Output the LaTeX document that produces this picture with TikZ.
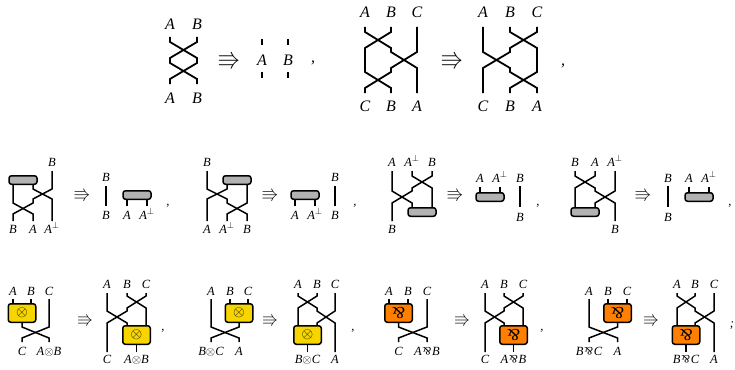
\documentclass[tikz,border=0pt]{standalone}
\usepackage{amsmath,amssymb}
\usepackage{graphicx}
\usepackage{fontspec}
\setmainfont{Liberation Serif}

\definecolor{capgrey}{RGB}{178,178,178}
\definecolor{tensoryellow}{RGB}{247,214,0}
\definecolor{parorange}{RGB}{255,128,0}

\newcommand{\parrsym}{\rotatebox[origin=c]{180}{\upshape\&}}
\newcommand{\parrlab}{\kern0.8pt\scalebox{0.9}{\parrsym}\kern0.8pt}
\newcommand{\imply}[1]{\scalebox{#1}{$\Rrightarrow$}}
\newcommand{\tensorin}{\scalebox{1.25}{$\otimes$}}
\newcommand{\parrin}{\scalebox{1.4}{\parrsym}}

\begin{document}
\begin{tikzpicture}[x=1pt, y=-1pt,
  wire/.style={line width=1.8pt},
  thinwire/.style={line width=1.5pt},
  biglab/.style={font=\fontsize{16}{19}\selectfont\itshape, anchor=base, inner sep=0pt},
  lab/.style={font=\fontsize{12.5}{15}\selectfont\itshape, anchor=base, inner sep=0pt},
  imp/.style={inner sep=0pt},
  capbox/.style={draw, line width=1.5pt, rounded corners=2.5pt, fill=capgrey, minimum width=28pt, minimum height=8.5pt, inner sep=0pt},
  tensorbox/.style={draw, line width=1.5pt, rounded corners=2.5pt, fill=tensoryellow, minimum width=27.5pt, minimum height=18.5pt, inner sep=0pt, font=\fontsize{12}{14}\selectfont},
  parbox/.style={tensorbox, fill=parorange}]

  \useasboundingbox (0,0) rectangle (735,369);

  % Row 1: double swap
  \node (d1a) [biglab] at (170,30) {A};
  \node (d1b) [biglab] at (197,30) {B};
  \draw[wire] (170,37) -- (170,42) -- (197,58) -- (197,63) -- (170,79) -- (170,84);
  \draw[wire] (197,37) -- (197,42) -- (170,58) -- (170,63) -- (197,79) -- (197,84);
  \node (d1A) [biglab] at (170,103) {A};
  \node (d1B) [biglab] at (197,103) {B};
  \node (imp1) [imp] at (229,61) {\imply{2.3}};
  \node (m1a) [biglab] at (262,66) {A};
  \node (m1b) [biglab] at (288,66) {B};
  \draw[wire] (262,39) -- (262,45);
  \draw[wire] (262,72) -- (262,78);
  \draw[wire] (288,39) -- (288,45);
  \draw[wire] (288,72) -- (288,78);
  \node (com1) [biglab] at (313,63) {,};

  % Row 1: braid relation
  \node (d2a) [biglab] at (365,18) {A};
  \node (d2b) [biglab] at (391,18) {B};
  \node (d2c) [biglab] at (417,18) {C};
  \draw[wire] (365,27) -- (365,32) -- (391,48) -- (391,52) -- (417,68) -- (417,93);
  \draw[wire] (391,27) -- (391,32) -- (365,48) -- (365,72) -- (391,88) -- (391,93);
  \draw[wire] (417,27) -- (417,52) -- (391,68) -- (391,72) -- (365,88) -- (365,93);
  \node (d2C) [biglab] at (365,111) {C};
  \node (d2B) [biglab] at (391,111) {B};
  \node (d2A) [biglab] at (417,111) {A};
  \node (imp2) [imp] at (452,61) {\imply{2.3}};
  \node (d3a) [biglab] at (483,18) {A};
  \node (d3b) [biglab] at (510,18) {B};
  \node (d3c) [biglab] at (537,18) {C};
  \draw[wire] (483,27) -- (483,52) -- (510,68) -- (510,72) -- (537,88) -- (537,93);
  \draw[wire] (510,27) -- (510,32) -- (537,48) -- (537,72) -- (510,88) -- (510,93);
  \draw[wire] (537,27) -- (537,32) -- (510,48) -- (510,52) -- (483,68) -- (483,93);
  \node (d3C) [biglab] at (483,111) {C};
  \node (d3B) [biglab] at (510,111) {B};
  \node (d3A) [biglab] at (537,111) {A};
  \node (com2) [biglab] at (563,65) {,};

  % Row 2: cap on the left
  \node (e1b) [lab] at (52,166) {B};
  \draw[thinwire] (52,171) -- (52,189) -- (33,199) -- (33,203) -- (13,214) -- (13,221);
  \draw[thinwire] (13,180) -- (13,203) -- (33,214) -- (33,221);
  \draw[thinwire] (33,180) -- (33,189) -- (52,199) -- (52,221);
  \node (g1) [capbox] at (23,180) {};
  \node (e1B) [lab] at (13,233) {B};
  \node (e1A) [lab] at (33,233) {A};
  \node (e1P) [lab] at (52,233) {A$^{\perp}$};
  \node (imp3) [imp] at (82,195) {\imply{1.7}};
  \node (f1b) [lab] at (106,181) {B};
  \draw[thinwire] (106,186) -- (106,206);
  \node (f1B) [lab] at (106,219) {B};
  \draw[thinwire] (127,195) -- (127,206);
  \draw[thinwire] (147,195) -- (147,206);
  \node (g2) [capbox] at (137,195) {};
  \node (f1A) [lab] at (127,219) {A};
  \node (f1P) [lab] at (147,219) {A$^{\perp}$};
  \node (com3) [lab] at (168,205) {,};

  % Row 2: cap on the right
  \node (e2b) [lab] at (207,166) {B};
  \draw[thinwire] (207,171) -- (207,189) -- (227,199) -- (227,203) -- (247,214) -- (247,221);
  \draw[thinwire] (227,180) -- (227,189) -- (207,199) -- (207,221);
  \draw[thinwire] (247,180) -- (247,203) -- (227,214) -- (227,221);
  \node (g3) [capbox] at (237,180) {};
  \node (e2A) [lab] at (207,233) {A};
  \node (e2P) [lab] at (227,233) {A$^{\perp}$};
  \node (e2B) [lab] at (247,233) {B};
  \node (imp4) [imp] at (270,195) {\imply{1.7}};
  \draw[thinwire] (295,195) -- (295,206);
  \draw[thinwire] (315,195) -- (315,206);
  \node (g4) [capbox] at (305,195) {};
  \node (f2A) [lab] at (295,219) {A};
  \node (f2P) [lab] at (315,219) {A$^{\perp}$};
  \node (f2b) [lab] at (335,181) {B};
  \draw[thinwire] (335,186) -- (335,206);
  \node (f2B) [lab] at (335,219) {B};
  \node (com4) [lab] at (355,205) {,};

  % Row 2: cup on the right
  \node (e3a) [lab] at (392,166) {A};
  \node (e3p) [lab] at (412,166) {A$^{\perp}$};
  \node (e3b) [lab] at (432,166) {B};
  \draw[thinwire] (412,171) -- (412,176) -- (432,188) -- (432,212);
  \draw[thinwire] (432,171) -- (432,176) -- (412,188) -- (412,191) -- (392,203) -- (392,221);
  \draw[thinwire] (392,171) -- (392,191) -- (412,203) -- (412,212);
  \node (g5) [capbox] at (422,212) {};
  \node (e3B) [lab] at (392,233) {B};
  \node (imp5) [imp] at (455,195) {\imply{1.7}};
  \node (f3a) [lab] at (480,182) {A};
  \node (f3p) [lab] at (500,182) {A$^{\perp}$};
  \draw[thinwire] (480,187) -- (480,197);
  \draw[thinwire] (500,187) -- (500,197);
  \node (g6) [capbox] at (490,197) {};
  \node (f3b) [lab] at (520,182) {B};
  \draw[thinwire] (520,186) -- (520,207);
  \node (f3B) [lab] at (520,221) {B};
  \node (com5) [lab] at (538,205) {,};

  % Row 2: cup on the left
  \node (e4b) [lab] at (575,166) {B};
  \node (e4a) [lab] at (595,166) {A};
  \node (e4p) [lab] at (615,166) {A$^{\perp}$};
  \draw[thinwire] (575,171) -- (575,176) -- (595,188) -- (595,191) -- (615,203) -- (615,221);
  \draw[thinwire] (595,171) -- (595,176) -- (575,188) -- (575,212);
  \draw[thinwire] (615,171) -- (615,191) -- (595,203) -- (595,212);
  \node (g7) [capbox] at (585,212) {};
  \node (e4B) [lab] at (615,233) {B};
  \node (imp6) [imp] at (643,195) {\imply{1.7}};
  \node (f4b) [lab] at (668,182) {B};
  \draw[thinwire] (668,186) -- (668,207);
  \node (f4B) [lab] at (668,221) {B};
  \node (f4a) [lab] at (689,182) {A};
  \node (f4p) [lab] at (709,182) {A$^{\perp}$};
  \draw[thinwire] (689,187) -- (689,197);
  \draw[thinwire] (709,187) -- (709,197);
  \node (g8) [capbox] at (699,197) {};
  \node (com6) [lab] at (730,205) {,};

  % Row 3: tensor, box on the left
  \node (h1a) [lab] at (13,295) {A};
  \node (h1b) [lab] at (31,295) {B};
  \node (h1c) [lab] at (49,295) {C};
  \draw[thinwire] (13,299) -- (13,313);
  \draw[thinwire] (31,299) -- (31,313);
  \draw[thinwire] (22,313) -- (22,327) -- (49,338) -- (49,342);
  \draw[thinwire] (49,299) -- (49,327) -- (22,338) -- (22,342);
  \node (t1) [tensorbox] at (22,313) {\tensorin};
  \node (h1C) [lab] at (22,355) {C};
  \node (h1T) [lab] at (49,355) {A$\otimes$B};
  \node (imp7) [imp] at (85,320) {\imply{1.6}};
  \node (k1a) [lab] at (107,288) {A};
  \node (k1b) [lab] at (127,288) {B};
  \node (k1c) [lab] at (146,288) {C};
  \draw[thinwire] (107,293) -- (107,311) -- (127,323) -- (127,335);
  \draw[thinwire] (127,293) -- (127,296) -- (146,308) -- (146,335);
  \draw[thinwire] (146,293) -- (146,296) -- (127,308) -- (127,311) -- (107,323) -- (107,352);
  \draw[thinwire] (136.5,335) -- (136.5,352);
  \node (t2) [tensorbox] at (136.5,335) {\tensorin};
  \node (k1C) [lab] at (107,363) {C};
  \node (k1T) [lab] at (136.5,363) {A$\otimes$B};
  \node (com7) [lab] at (163,330) {,};

  % Row 3: tensor, box on the right
  \node (h2a) [lab] at (211,295) {A};
  \node (h2b) [lab] at (230,295) {B};
  \node (h2c) [lab] at (248,295) {C};
  \draw[thinwire] (230,299) -- (230,313);
  \draw[thinwire] (248,299) -- (248,313);
  \draw[thinwire] (211,299) -- (211,327) -- (239,338) -- (239,342);
  \draw[thinwire] (239,313) -- (239,327) -- (211,338) -- (211,342);
  \node (t3) [tensorbox] at (239,313) {\tensorin};
  \node (h2T) [lab] at (211,355) {B$\otimes$C};
  \node (h2A) [lab] at (239,355) {A};
  \node (imp8) [imp] at (270,320) {\imply{1.6}};
  \node (k2a) [lab] at (298,288) {A};
  \node (k2b) [lab] at (317,288) {B};
  \node (k2c) [lab] at (335,288) {C};
  \draw[thinwire] (298,293) -- (298,296) -- (317,308) -- (317,311) -- (335,323) -- (335,352);
  \draw[thinwire] (317,293) -- (317,296) -- (298,308) -- (298,335);
  \draw[thinwire] (335,293) -- (335,311) -- (317,323) -- (317,335);
  \draw[thinwire] (307.5,335) -- (307.5,352);
  \node (t4) [tensorbox] at (307.5,335) {\tensorin};
  \node (k2T) [lab] at (307.5,363) {B$\otimes$C};
  \node (k2A) [lab] at (335,363) {A};
  \node (com8) [lab] at (353,330) {,};

  % Row 3: par, box on the left
  \node (h3a) [lab] at (389,295) {A};
  \node (h3b) [lab] at (408,295) {B};
  \node (h3c) [lab] at (427,295) {C};
  \draw[thinwire] (389,299) -- (389,313);
  \draw[thinwire] (408,299) -- (408,313);
  \draw[thinwire] (398.5,313) -- (398.5,327) -- (427,338) -- (427,342);
  \draw[thinwire] (427,299) -- (427,327) -- (398.5,338) -- (398.5,342);
  \node (p1) [parbox] at (398.5,313) {\parrin};
  \node (h3C) [lab] at (398.5,355) {C};
  \node (h3P) [lab] at (427,355) {A\parrlab B};
  \node (imp9) [imp] at (462,320) {\imply{1.6}};
  \node (k3a) [lab] at (485,288) {A};
  \node (k3b) [lab] at (504,288) {B};
  \node (k3c) [lab] at (523,288) {C};
  \draw[thinwire] (485,293) -- (485,311) -- (504,323) -- (504,335);
  \draw[thinwire] (504,293) -- (504,296) -- (523,308) -- (523,335);
  \draw[thinwire] (523,293) -- (523,296) -- (504,308) -- (504,311) -- (485,323) -- (485,352);
  \draw[thinwire] (513.5,335) -- (513.5,352);
  \node (p2) [parbox] at (513.5,335) {\parrin};
  \node (k3C) [lab] at (485,363) {C};
  \node (k3P) [lab] at (513.5,363) {A\parrlab B};
  \node (com9) [lab] at (542,330) {,};

  % Row 3: par, box on the right
  \node (h4a) [lab] at (589,295) {A};
  \node (h4b) [lab] at (608,295) {B};
  \node (h4c) [lab] at (627,295) {C};
  \draw[thinwire] (608,299) -- (608,313);
  \draw[thinwire] (627,299) -- (627,313);
  \draw[thinwire] (589,299) -- (589,327) -- (617.5,338) -- (617.5,342);
  \draw[thinwire] (617.5,313) -- (617.5,327) -- (589,338) -- (589,342);
  \node (p3) [parbox] at (617.5,313) {\parrin};
  \node (h4P) [lab] at (589,355) {B\parrlab C};
  \node (h4A) [lab] at (617.5,355) {A};
  \node (imp10) [imp] at (651,320) {\imply{1.6}};
  \node (k4a) [lab] at (677,288) {A};
  \node (k4b) [lab] at (695,288) {B};
  \node (k4c) [lab] at (714,288) {C};
  \draw[thinwire] (677,293) -- (677,296) -- (695,308) -- (695,311) -- (714,323) -- (714,352);
  \draw[thinwire] (695,293) -- (695,296) -- (677,308) -- (677,335);
  \draw[thinwire] (714,293) -- (714,311) -- (695,323) -- (695,335);
  \draw[thinwire] (686,335) -- (686,352);
  \node (p4) [parbox] at (686,335) {\parrin};
  \node (k4P) [lab] at (686,363) {B\parrlab C};
  \node (k4A) [lab] at (714,363) {A};
  \node (semi) [lab] at (732,327) {;};

\end{tikzpicture}
\end{document}
